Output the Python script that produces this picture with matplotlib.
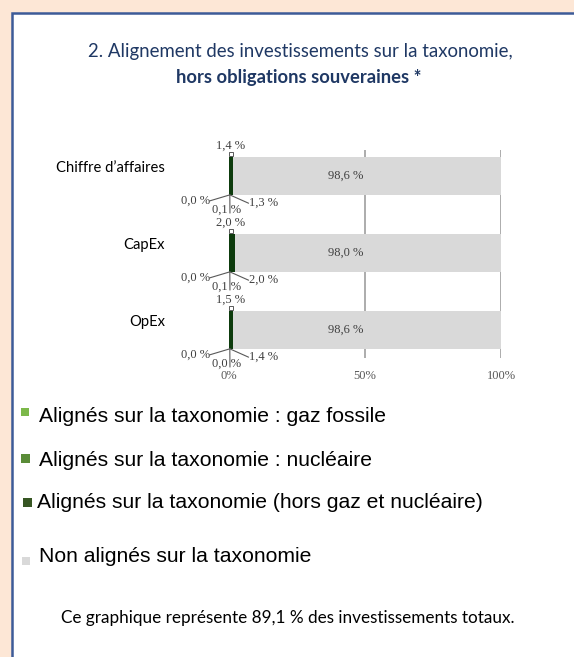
import matplotlib.pyplot as plt
from matplotlib.patches import Rectangle

# === Données ===
categories = ["Chiffre d\u2019affaires", "CapEx", "OpEx"]
gaz_fossile = [0.0, 0.0, 0.0]
nucleaire = [0.1, 0.1, 0.0]
hors_gaz_nucleaire = [1.3, 2.0, 1.4]
non_alignes = [98.6, 98.0, 98.6]
total_aligne = [1.4, 2.0, 1.5]

legend_labels = ["Alignés sur la taxonomie : gaz fossile",
                 "Alignés sur la taxonomie : nucléaire",
                 "Alignés sur la taxonomie (hors gaz et nucléaire)",
                 "Non alignés sur la taxonomie"]
legend_colors = ["#7cb84a", "#5a8c38", "#375623", "#d9d9d9"]

xticks = [0, 50, 100]
xticklabels = ["0%", "50%", "100%"]

W, H = 574, 657
NAVY = "#1f3864"
GREY_TXT = "#404040"


def fx(px):
    return px / W


def fy(py):
    return 1 - py / H


def fmt(v):
    return f"{v:.1f} %".replace(".", ",")


fig = plt.figure(figsize=(W / 100, H / 100), dpi=100)
fig.patch.set_facecolor("#fde7d6")

# panneau blanc avec bordure bleue
fig.patches.append(Rectangle((fx(12), fy(700)), fx(600), (700 - 13) / H,
                             transform=fig.transFigure, facecolor="white",
                             edgecolor="#3d5b98", linewidth=1.8, zorder=-10))

# titre
fig.text(fx(300), fy(51), "2. Alignement des investissements sur la taxonomie,",
         ha="center", va="center", fontsize=13.4, color=NAVY, family="Lato")
fig.text(fx(299), fy(77), "hors obligations souveraines *",
         ha="center", va="center", fontsize=13.2, color=NAVY, family="Lato",
         weight="bold")

# === Graphique ===
ax = fig.add_axes([fx(229), fy(366), fx(272), 226 / H])
ax.set_xlim(0, 100)
ax.set_ylim(2.468, -0.468)
ax.set_facecolor("none")

ypos = list(range(len(categories)))
h = 0.49

ax.vlines([50, 100], -0.338, 2.364, color="#a6a6a6", lw=1.3, zorder=1)

left = [0.0] * len(categories)
series = [gaz_fossile, nucleaire, hors_gaz_nucleaire, non_alignes]
bar_colors = ["#7cb84a", "#5a8c38", "#0d3b0d", "#d9d9d9"]
for vals, col in zip(series, bar_colors):
    ax.barh(ypos, vals, left=left, height=h, color=col, zorder=2)
    left = [l + v for l, v in zip(left, vals)]

lab_kw = dict(fontsize=9, family="Liberation Serif", color=GREY_TXT)
line_kw = dict(arrowstyle="-", color="#595959", lw=0.8, shrinkA=0, shrinkB=0)

for i in ypos:
    yb = i + h / 2
    yt = i - h / 2
    # étiquette du haut
    ax.plot([0.6], [yt - 0.04], marker="s", ms=3, mfc="white", mec="#404040",
            mew=0.6, zorder=3, clip_on=False)
    ax.annotate(fmt(total_aligne[i]), (0.5, yt), xytext=(0, 8),
                textcoords="offset points", ha="center", va="center",
                annotation_clip=False, **lab_kw)
    # étiquettes sous la barre
    ax.annotate(fmt(gaz_fossile[i]), (0.3, yb), xytext=(-14.4, -4.3),
                textcoords="offset points", ha="right", va="center",
                annotation_clip=False,
                arrowprops=dict(relpos=(1, 0.5), patchA=None, **line_kw), **lab_kw)
    ax.annotate(fmt(nucleaire[i]), (0.3, yb), xytext=(-2, -10.5),
                textcoords="offset points", ha="center", va="center",
                annotation_clip=False,
                arrowprops=dict(relpos=(0.6, 0.2), patchA=None, **line_kw), **lab_kw)
    ax.annotate(fmt(hors_gaz_nucleaire[i]), (0.3, yb), xytext=(13.5, -6),
                textcoords="offset points", ha="left", va="center",
                annotation_clip=False,
                arrowprops=dict(relpos=(0, 0.5), patchA=None, **line_kw), **lab_kw)
    # non alignés
    ax.text(43, i, fmt(non_alignes[i]), ha="center", va="center", zorder=3, **lab_kw)
    # catégorie
    fig.text(fx(165), fy(168 + 77 * i), categories[i], ha="right", va="center",
             fontsize=10.6, family="Lato", color="black")

ax.set_xticks(xticks)
ax.set_xticklabels(xticklabels, family="Liberation Serif", fontsize=9,
                   color="#595959")
ax.tick_params(axis="x", length=0, pad=3)
ax.set_yticks([])
for s in ax.spines.values():
    s.set_visible(False)

# === Légende ===
leg_y = [417, 460, 503, 556]
leg_sq = [(21, 408, 8), (21, 454, 9), (23, 498, 9), (22, 557, 8)]
leg_x = [39, 39, 37, 39]
for lab, col, y, (x0, top, sz), xt in zip(legend_labels, legend_colors, leg_y, leg_sq, leg_x):
    fig.patches.append(Rectangle((fx(x0), fy(top + sz)), sz / W, sz / H,
                                 transform=fig.transFigure, facecolor=col,
                                 edgecolor="none", zorder=2))
    fig.text(fx(xt), fy(y), lab, ha="left", va="center", fontsize=15.2,
             family="Liberation Sans", color="black")

fig.text(fx(288), fy(618), "Ce graphique représente 89,1 % des investissements totaux.",
         ha="center", va="center", fontsize=12.3, family="Lato", color="black")

fig.savefig("out.png", dpi=100, facecolor=fig.get_facecolor())
